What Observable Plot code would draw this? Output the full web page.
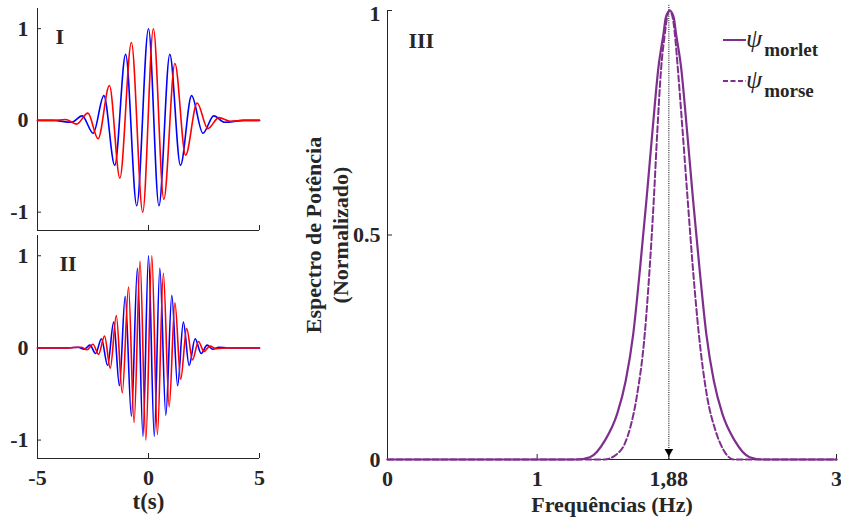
<!DOCTYPE html>
<html><head><meta charset="utf-8">
<script src="https://cdn.jsdelivr.net/npm/d3@7"></script>
<script src="https://cdn.jsdelivr.net/npm/@observablehq/plot@0.6"></script>
<style>
body{margin:0;background:#fff;}
#root{position:relative;width:841px;height:519px;overflow:hidden;font-family:"Liberation Serif","Times New Roman",serif;}
#root > svg, #root > div{position:absolute;}
</style></head><body><div id="root"></div>
<script>
// ---- data ----
const tTicks = [-5, 0, 5];
const tTickLabels = ["-5", "0", "5"];
const ampTicks = [-1, 0, 1];
const ampTickLabels = ["-1", "0", "1"];

// Panel I (blue / red)
const blue1T = [-5, -4.3, -3.47, -2.99, -2.49, -2.01, -1.52, -1.03, -0.53, 0, 0.47, 0.96, 1.44, 1.94, 2.45, 2.94, 3.43, 4.3, 5];
const blue1Y = [0, 0, -0.02, 0.05, -0.14, 0.27, -0.49, 0.72, -0.93, 1.0, -0.93, 0.72, -0.49, 0.27, -0.14, 0.05, -0.02, 0, 0];
const red1T = [-5, -4.3, -3.74, -3.24, -2.73, -2.27, -1.76, -1.29, -0.77, -0.26, 0.22, 0.69, 1.19, 1.67, 2.19, 2.67, 3.17, 3.7, 4.3, 5];
const red1Y = [0, 0, 0.01, -0.04, 0.08, -0.2, 0.38, -0.63, 0.85, -1.0, 1.0, -0.86, 0.62, -0.38, 0.19, -0.09, 0.03, -0.01, 0, 0];

// Panel II (blue / red)
const blue2T = [-5, -3.6, -3.17, -2.9, -2.64, -2.38, -2.12, -1.84, -1.57, -1.31, -1.05, -0.77, -0.5, -0.25, 0, 0.26, 0.51, 0.78, 1.05, 1.31, 1.57, 1.83, 2.1, 2.37, 2.64, 2.9, 3.17, 3.6, 5];
const blue2Y = [0, 0, 0.008, -0.015, 0.03, -0.06, 0.10, -0.19, 0.28, -0.41, 0.56, -0.74, 0.865, -0.96, 1.0, -0.96, 0.865, -0.73, 0.57, -0.41, 0.28, -0.19, 0.10, -0.06, 0.03, -0.015, 0.008, 0, 0];
const red2T = [-5, -3.6, -3.04, -2.77, -2.5, -2.25, -1.98, -1.72, -1.45, -1.18, -0.9, -0.65, -0.38, -0.12, 0.15, 0.4, 0.67, 0.93, 1.19, 1.45, 1.72, 1.98, 2.25, 2.5, 2.77, 3.04, 3.6, 5];
const red2Y = [0, 0, 0.008, -0.02, 0.04, -0.07, 0.13, -0.22, 0.35, -0.49, 0.66, -0.81, 0.94, -1.0, 1.0, -0.94, 0.81, -0.64, 0.49, -0.34, 0.21, -0.13, 0.07, -0.04, 0.02, -0.008, 0, 0];

// Panel III spectra
const freqTicks = [0, 1, 1.88, 3];
const freqTickLabels = ["0", "1", "1,88", "3"];
const powTicks = [0, 0.5, 1];
const powTickLabels = ["0", "0.5", "1"];
const peakFreq = 1.88;
const morletF = [0, 1.26, 1.352, 1.452, 1.535, 1.592, 1.642, 1.688, 1.73, 1.769, 1.8105, 1.844, 1.86, 1.886, 1.912, 1.928, 1.9615, 2.003, 2.042, 2.084, 2.13, 2.18, 2.237, 2.32, 2.42, 2.51, 3];
const morletV = [0, 0, 0.005, 0.042, 0.102, 0.176, 0.28, 0.428, 0.577, 0.726, 0.874, 0.948, 0.985, 1, 0.985, 0.948, 0.874, 0.726, 0.577, 0.428, 0.28, 0.176, 0.102, 0.042, 0.005, 0, 0];
const morseF = [0, 1.45, 1.525, 1.585, 1.625, 1.665, 1.719, 1.752, 1.779, 1.802, 1.829, 1.853, 1.868, 1.886, 1.905, 1.92, 1.939, 1.973, 2.006, 2.04, 2.08, 2.136, 2.191, 2.247, 2.313, 3];
const morseV = [0, 0, 0.01, 0.035, 0.075, 0.139, 0.28, 0.428, 0.577, 0.726, 0.874, 0.948, 0.985, 1, 0.985, 0.948, 0.874, 0.726, 0.577, 0.428, 0.28, 0.139, 0.065, 0.02, 0, 0];

// ---- styling ----
const AX = "#262626";
const BLUE = "#0000ff", RED = "#ff0000", PURPLE = "#7E2F8E";
const FONT = "'Liberation Serif','Times New Roman',serif";
const baseStyle = {fontFamily: FONT, fontWeight: "bold", fontSize: "22px", color: AX, background: "transparent", overflow: "visible"};
const zip = (xs, ys) => xs.map((x, i) => ({x, y: ys[i]}));
const root = document.getElementById("root");

function wavePanel({bT, bY, rT, rY, label, showX, top, height, marginTop, marginBottom, labelDx}) {
  const W = 280, mL = 37, mR = 21;
  const innerW = W - mL - mR, innerH = height - marginTop - marginBottom;
  const yDom = [-1.2, 1.22];
  const p = Plot.plot({
    width: W, height, marginLeft: mL, marginRight: mR, marginTop, marginBottom,
    style: baseStyle,
    x: showX ? {domain: [-5, 5], ticks: tTicks, tickFormat: d => tTickLabels[tTicks.indexOf(d)], tickSize: 0, tickPadding: 11, label: null}
             : {domain: [-5, 5], axis: null},
    y: {domain: yDom, ticks: ampTicks, tickFormat: d => ampTickLabels[ampTicks.indexOf(d)], tickSize: 0, tickPadding: 9, label: null},
    marks: [
      Plot.ruleX([-5], {stroke: AX, strokeWidth: 1}),
      Plot.ruleY([yDom[0]], {stroke: AX, strokeWidth: 1}),
      Plot.ruleX(tTicks, {stroke: AX, insetTop: innerH - 5}),
      Plot.ruleY(ampTicks, {stroke: AX, insetRight: innerW - 4}),
      Plot.line(zip(bT, bY), {x: "x", y: "y", stroke: BLUE, strokeWidth: 1.6, curve: "monotone-x"}),
      Plot.line(zip(rT, rY), {x: "x", y: "y", stroke: RED, strokeWidth: 1.6, curve: "monotone-x"}),
      Plot.text([label], {frameAnchor: "top-left", dx: labelDx, dy: 20, lineAnchor: "top", textAnchor: "start", fontSize: 22}),
      showX ? Plot.text(["t(s)"], {frameAnchor: "bottom", dy: 43, lineAnchor: "middle", fontSize: 23}) : null
    ]
  });
  p.style.left = "0px"; p.style.top = top + "px";
  root.appendChild(p);
}

wavePanel({bT: blue1T, bY: blue1Y, rT: red1T, rY: red1Y, label: "I", showX: false, top: 0, height: 235, marginTop: 8, marginBottom: 5, labelDx: 18});
wavePanel({bT: blue2T, bY: blue2Y, rT: red2T, rY: red2Y, label: "II", showX: true, top: 228, height: 291, marginTop: 7, marginBottom: 61, labelDx: 22});

// Panel III
{
  const W = 551, H = 519, mL = 97, mR = 5, mT = 10, mB = 60;
  const innerW = W - mL - mR, innerH = H - mT - mB;
  const lab = d => powTickLabels[powTicks.indexOf(d)];
  const p = Plot.plot({
    width: W, height: H, marginLeft: mL, marginRight: mR, marginTop: mT, marginBottom: mB,
    style: baseStyle,
    x: {domain: [0, 3], ticks: freqTicks, tickFormat: d => freqTickLabels[freqTicks.indexOf(d)], tickSize: 0, tickPadding: 11, label: null},
    y: {domain: [0, 1], axis: null},
    marks: [
      Plot.ruleX([0], {stroke: AX}),
      Plot.ruleY([0], {stroke: AX}),
      Plot.ruleX(freqTicks, {stroke: AX, insetTop: innerH - 5}),
      Plot.ruleY(powTicks, {stroke: AX, insetRight: innerW - 5}),
      // y tick labels (top one nudged so it is not clipped by the page edge)
      Plot.text(powTicks.filter(d => d < 1), {x: 0, y: d => d, text: lab, textAnchor: "end", lineAnchor: "middle", dx: -7, fontSize: 22}),
      Plot.text(powTicks.filter(d => d === 1), {x: 0, y: d => d, text: lab, textAnchor: "end", lineAnchor: "middle", dx: -7, dy: 3, fontSize: 22}),
      Plot.ruleX([peakFreq], {y1: 0, y2: 1, stroke: "#000", strokeWidth: 1, strokeDasharray: "1,1.2", insetBottom: 6}),
      Plot.dot([peakFreq], {x: d => d, y: 0, symbol: "triangle", rotate: 180, r: 3.2, fill: "#000", stroke: "none", dy: -8}),
      Plot.line(zip(morseF, morseV), {x: "x", y: "y", stroke: PURPLE, strokeWidth: 2, strokeDasharray: "6,3", curve: "monotone-x"}),
      Plot.line(zip(morletF, morletV), {x: "x", y: "y", stroke: PURPLE, strokeWidth: 2.2, curve: "monotone-x"}),
      Plot.text(["III"], {frameAnchor: "top-left", dx: 21, dy: 22, lineAnchor: "top", textAnchor: "start", fontSize: 22}),
      Plot.text(["Frequências (Hz)"], {frameAnchor: "bottom", dy: 45, lineAnchor: "middle", fontSize: 22}),
      Plot.text(["Espectro de Potência"], {frameAnchor: "left", dx: -74, rotate: -90, lineAnchor: "middle", textAnchor: "middle", fontSize: 22}),
      Plot.text(["(Normalizado)"], {frameAnchor: "left", dx: -47, rotate: -90, lineAnchor: "middle", textAnchor: "middle", fontSize: 22})
    ]
  });
  p.style.left = "290px"; p.style.top = "0px";
  root.appendChild(p);
}

// Legend (panel III)
{
  const ns = "http://www.w3.org/2000/svg";
  const lg = document.createElementNS(ns, "svg");
  lg.setAttribute("width", 841); lg.setAttribute("height", 519);
  lg.style.left = "0px"; lg.style.top = "0px"; lg.style.pointerEvents = "none";
  const entries = [
    {name: "morlet", dash: null, y: 40},
    {name: "morse", dash: "5,2.5", y: 81}
  ];
  entries.forEach(e => {
    const l = document.createElementNS(ns, "line");
    l.setAttribute("x1", 723); l.setAttribute("x2", 746);
    l.setAttribute("y1", e.y); l.setAttribute("y2", e.y);
    l.setAttribute("stroke", PURPLE); l.setAttribute("stroke-width", 2);
    if (e.dash) l.setAttribute("stroke-dasharray", e.dash);
    lg.appendChild(l);
    const t = document.createElementNS(ns, "text");
    t.setAttribute("x", 746); t.setAttribute("y", e.y + 7);
    t.setAttribute("font-family", FONT);
    t.setAttribute("fill", AX);
    const psi = document.createElementNS(ns, "tspan");
    psi.setAttribute("font-style", "italic"); psi.setAttribute("font-size", 26);
    psi.textContent = "ψ";
    const sub = document.createElementNS(ns, "tspan");
    sub.setAttribute("font-weight", "bold"); sub.setAttribute("font-size", 19);
    sub.setAttribute("dx", 2); sub.setAttribute("dy", 9);
    sub.textContent = e.name;
    t.appendChild(psi); t.appendChild(sub);
    lg.appendChild(t);
  });
  root.appendChild(lg);
}
</script></body></html>
